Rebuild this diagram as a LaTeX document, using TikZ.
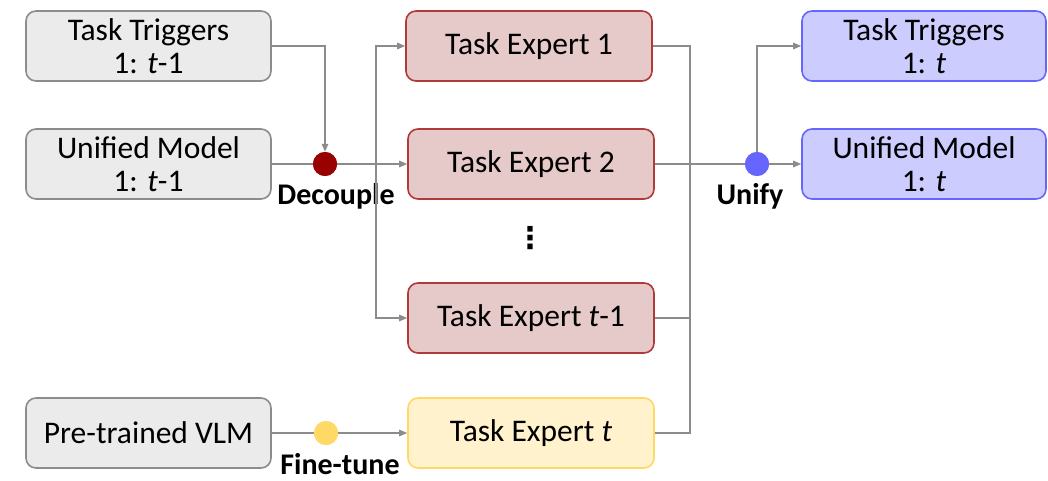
\documentclass[tikz,border=0pt]{standalone}
\usepackage{fontspec}
\setmainfont{Carlito}
\newfontfamily\symfont{DejaVu Sans}
\usetikzlibrary{arrows.meta}
\definecolor{gfill}{HTML}{EBEBEB}
\definecolor{gline}{HTML}{8C8C8C}
\definecolor{rfill}{HTML}{E6C9C9}
\definecolor{rline}{HTML}{B03A3A}
\definecolor{bfill}{HTML}{CCCCFF}
\definecolor{bline}{HTML}{6666FF}
\definecolor{yfill}{HTML}{FFF2CC}
\definecolor{yline}{HTML}{FFD966}
\definecolor{decc}{HTML}{990000}
\definecolor{conc}{HTML}{8C8C8C}
\begin{document}
\begin{tikzpicture}[x=1pt,y=-1pt,
  box/.style={draw, rounded corners=10pt, line width=1.6pt, minimum height=70pt, align=center, inner sep=0pt,
    font=\fontsize{31.5}{33}\selectfont},
  gbox/.style={box, fill=gfill, draw=gline, minimum width=245pt},
  rbox/.style={box, fill=rfill, draw=rline, minimum width=246pt},
  bbox/.style={box, fill=bfill, draw=bline, minimum width=244pt},
  ybox/.style={box, fill=yfill, draw=yline, minimum width=246pt},
  dot/.style={circle, inner sep=0pt, minimum size=24pt},
  lbl/.style={font=\fontsize{30}{32}\selectfont\bfseries},
  wire/.style={draw=conc, line width=1.3pt},
  conn/.style={wire, -{Triangle[length=8pt,width=6.5pt]}}
]
\useasboundingbox (0,0) rectangle (1048,481);

% left inputs
\node[gbox] (tt) at (148.5,46) {Task Triggers\\1: \textit{t}-1};
\node[gbox] (um) at (148.5,164) {Unified Model\\1: \textit{t}-1};
\node[gbox] (vlm) at (148.5,433) {Pre-trained VLM};

% experts
\node[rbox] (te1) at (529,46) {Task Expert 1};
\node[rbox] (te2) at (531,164) {Task Expert 2};
\node[font=\symfont\fontsize{30}{32}\selectfont\bfseries] (vd) at (530,238) {⋮};
\node[rbox] (te3) at (531,318) {Task Expert \textit{t}-1};
\node[ybox] (te4) at (531,433) {Task Expert \textit{t}};

% outputs
\node[bbox] (tt2) at (924,46) {Task Triggers\\1: \textit{t}};
\node[bbox] (um2) at (924,164) {Unified Model\\1: \textit{t}};

% operation dots
\node[dot, fill=decc] (dec) at (325,164) {};
\node[dot, fill=bline] (uni) at (757,164) {};
\node[dot, fill=yline] (ft) at (326,433) {};
\node[lbl] (decl) at (336,196) {Decouple};
\node[lbl] (unil) at (750,196) {Unify};
\node[lbl] (ftl) at (340,464) {Fine-tune};

\coordinate (bx) at (376,164);
\coordinate (cx) at (690,164);

% connectors
\draw[conn] (tt.east) -| (dec.north);
\draw[wire] (um.east) -- (dec.west);
\draw[conn] (dec.east) -- (te2.west);
\draw[conn] (bx) |- (te1.west);
\draw[conn] (bx) |- (te3.west);

\draw[wire] (te1.east) -| (cx);
\draw[wire] (te3.east) -| (cx);
\draw[wire] (te4.east) -| (cx);
\draw[wire] (te2.east) -- (uni.west);
\draw[conn] (uni.east) -- (um2.west);
\draw[conn] (uni.north) |- (tt2.west);

\draw[wire] (vlm.east) -- (ft.west);
\draw[conn] (ft.east) -- (te4.west);

% redraw dots on top
\node[dot, fill=decc] at (dec) {};
\node[dot, fill=bline] at (uni) {};
\node[dot, fill=yline] at (ft) {};
\end{tikzpicture}
\end{document}
